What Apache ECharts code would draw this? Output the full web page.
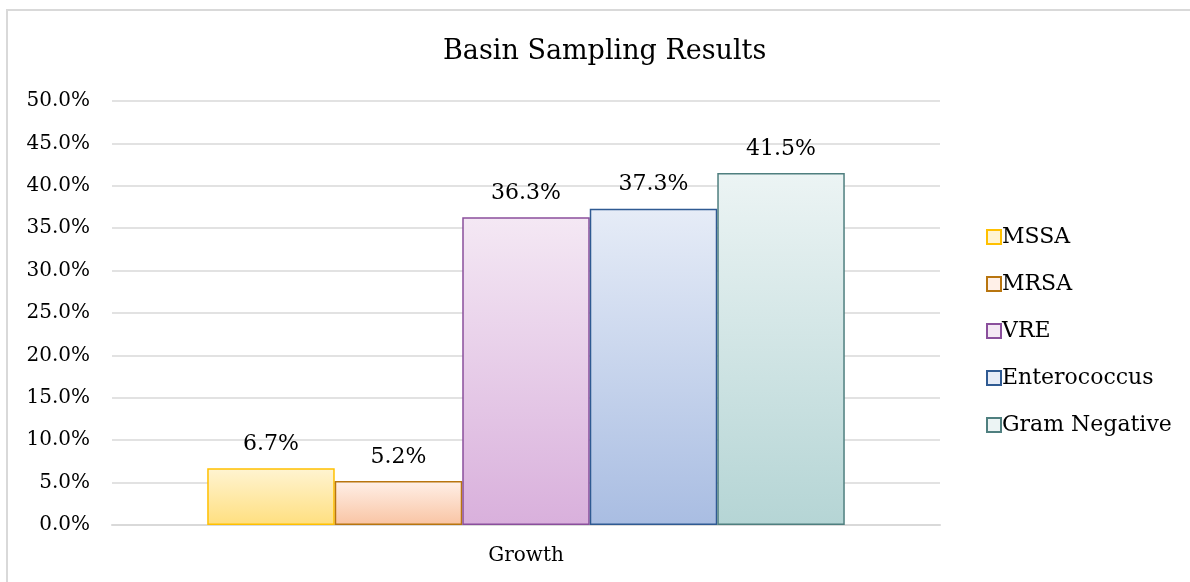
<!DOCTYPE html>
<html>
<head>
<meta charset="utf-8">
<script src="https://cdn.jsdelivr.net/npm/echarts@6/dist/echarts.min.js"></script>
<style>html,body{margin:0;padding:0;background:#fff;overflow:hidden;}#c{width:1190px;height:582px;}</style>
</head>
<body>
<div id="c"></div>
<script>
const categories = ['Growth'];
const seriesNames = ['MSSA', 'MRSA', 'VRE', 'Enterococcus', 'Gram Negative'];
const values = [6.7, 5.2, 36.3, 37.3, 41.5];
const yMin = 0, yMax = 50, yStep = 5;

const topColors = ['#fff4d2', '#fff0e8', '#f4e8f4', '#e6ecf7', '#ecf4f4'];
const bottomColors = ['#ffdf7f', '#f9c4a3', '#d9b0dc', '#a9bde2', '#b5d5d5'];
const borderColors = ['#ffc000', '#b8750f', '#8a4f9c', '#2f5a92', '#4f7f7f'];
const FONT = 'DejaVu Serif';

const chart = echarts.init(document.getElementById('c'));
const series = seriesNames.map((name, i) => ({
  name: name,
  type: 'bar',
  data: [values[i]],
  barGap: '0%',
  barCategoryGap: '23%',
  itemStyle: {
    color: new echarts.graphic.LinearGradient(0, 0, 0, 1, [
      { offset: 0, color: topColors[i] },
      { offset: 1, color: bottomColors[i] }
    ]),
    borderColor: borderColors[i],
    borderWidth: 1.5
  },
  label: {
    show: true,
    position: 'top',
    distance: 13,
    fontFamily: FONT,
    fontSize: 22,
    color: '#000',
    formatter: p => p.value.toFixed(1) + '%'
  }
}));

chart.setOption({
  animation: false,
  backgroundColor: '#fff',
  graphic: [{
    type: 'polyline',
    shape: { points: [[7, 700], [7, 10], [1400, 10]] },
    style: { fill: null, stroke: '#d9d9d9', lineWidth: 2 },
    silent: true
  }],
  title: {
    text: 'Basin Sampling Results',
    left: 438,
    top: 33,
    textStyle: { fontFamily: FONT, fontSize: 27, fontWeight: 'normal', color: '#000' }
  },
  legend: {
    orient: 'vertical',
    left: 981,
    top: 221,
    itemWidth: 14,
    itemHeight: 14,
    itemGap: 25,
    icon: 'rect',
    textStyle: { fontFamily: FONT, fontSize: 22, color: '#000', lineHeight: 22, padding: [0, 0, 0, -4] },
    data: seriesNames.map((n, i) => ({
      name: n,
      itemStyle: { color: topColors[i], borderColor: borderColors[i], borderWidth: 2 }
    }))
  },
  grid: { left: 112, right: 250, top: 101, bottom: 57 },
  xAxis: {
    type: 'category',
    data: categories,
    axisLine: { lineStyle: { color: '#d9d9d9', width: 2 } },
    axisTick: { show: false },
    axisLabel: { fontFamily: FONT, fontSize: 20, color: '#000', margin: 21 }
  },
  yAxis: {
    type: 'value',
    min: yMin,
    max: yMax,
    interval: yStep,
    axisLine: { show: false },
    axisTick: { show: false },
    splitLine: { lineStyle: { color: '#d9d9d9', width: 1.5 } },
    axisLabel: { fontFamily: FONT, fontSize: 20, color: '#000', margin: 22, formatter: v => v.toFixed(1) + '%' }
  },
  series: series
});
</script>
</body>
</html>
